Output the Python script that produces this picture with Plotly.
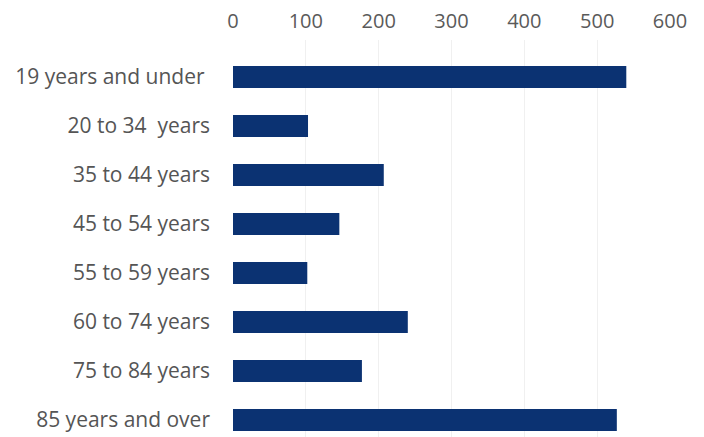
import plotly.graph_objects as go

categories = ["19 years and under ", "20 to 34  years", "35 to 44 years", "45 to 54 years",
              "55 to 59 years", "60 to 74 years", "75 to 84 years", "85 years and over"]
values = [540, 103, 207, 146, 102, 240, 177, 527]
tick_vals = [0, 100, 200, 300, 400, 500, 600]

fig = go.Figure(go.Bar(
    y=categories, x=values, orientation="h",
    marker=dict(color="#0b3272", line=dict(width=0)),
    width=0.45,
))

fig.update_layout(
    width=704, height=437,
    margin=dict(l=233, r=34, t=40, b=0, autoexpand=False),
    paper_bgcolor="white", plot_bgcolor="white",
    font=dict(family="Open Sans", size=21, color="#555555"),
    showlegend=False,
)
fig.update_xaxes(
    side="top", range=[0, 600], tickvals=tick_vals, automargin=False,
    showgrid=True, gridcolor="#f0f0f0", gridwidth=1,
    zeroline=False, showline=False, ticks="", ticklabelstandoff=7,
    tickfont=dict(size=20, color="#5a5a5a"),
)
fig.update_yaxes(
    type="category", categoryorder="array", categoryarray=categories,
    range=[7.347, -0.755], showgrid=False, zeroline=False, showline=False,
    ticks="", ticklabelstandoff=22, automargin=False,
    tickfont=dict(size=21, color="#555555"),
)

html = fig.to_html(include_plotlyjs=True, full_html=True,
                   config={"displayModeBar": False, "staticPlot": True})
html = html.replace("<head>", "<head><style>html,body{margin:0;padding:0;overflow:hidden;}</style>", 1)
with open("out.html", "w", encoding="utf-8") as f:
    f.write(html)
